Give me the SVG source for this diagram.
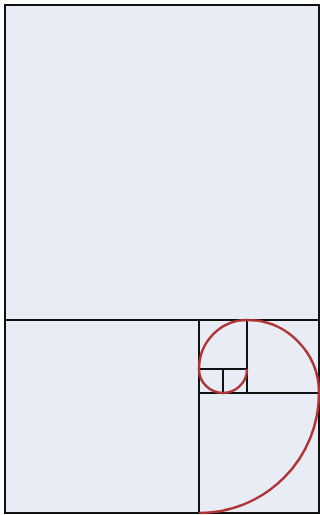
<svg xmlns="http://www.w3.org/2000/svg" width="320" height="515" viewBox="0 0 320 515">
<style>
.sq{fill:#e8ecf4;stroke:#111;stroke-width:2}
.sp{fill:none;stroke:#b03434;stroke-width:2.5}
</style>
<rect width="320" height="515" fill="#ffffff"/>
<g id="squares">
<rect id="sq1" class="sq" x="5" y="5" width="314" height="315"/>
<rect id="sq2" class="sq" x="5" y="320" width="194" height="193"/>
<rect id="sq3" class="sq" x="199" y="393" width="120" height="120"/>
<rect id="sq4" class="sq" x="247" y="320" width="72" height="73"/>
<rect id="sq5" class="sq" x="199" y="320" width="48" height="49"/>
<rect id="sq6" class="sq" x="199" y="369" width="24" height="24"/>
<rect id="sq7" class="sq" x="223" y="369" width="24" height="24"/>
</g>
<g id="spiral">
<path class="sp" d="M247,369 A24,24 0 0 1 223,393 A24,24 0 0 1 199,369 A48,49 0 0 1 247,320 A72,73 0 0 1 319,393 A120,120 0 0 1 199,513"/>
</g>
</svg>
